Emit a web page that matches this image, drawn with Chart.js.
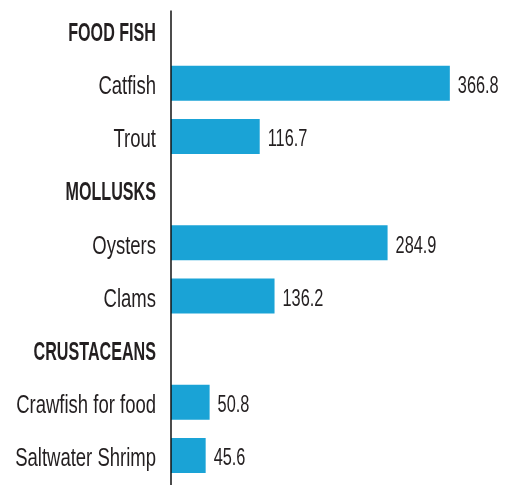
<!DOCTYPE html>
<html>
<head>
<meta charset="utf-8">
<script src="https://cdn.jsdelivr.net/npm/chart.js@4"></script>
<style>
  html, body { margin: 0; padding: 0; background: #fff; }
</style>
</head>
<body>
<canvas id="chart1" width="507" height="485"></canvas>
<script>
const categories = ["FOOD FISH", "Catfish", "Trout", "MOLLUSKS", "Oysters", "Clams", "CRUSTACEANS", "Crawfish for food", "Saltwater Shrimp"];
const isHeader = [true, false, false, true, false, false, true, false, false];
const values = [null, 366.8, 116.7, null, 284.9, 136.2, null, 50.8, 45.6];

const FONT = "'Liberation Sans', Arial, sans-serif";
const TEXT = "#231f20";

// condensed text: the original uses a narrow face, so squeeze a normal one
function squeezed(ctx, str, x, y, align, sx) {
  ctx.save();
  ctx.translate(x, y);
  ctx.scale(sx, 1);
  ctx.textAlign = align;
  ctx.fillText(str, 0, 0);
  ctx.restore();
}

const labelsAndValues = {
  id: "labelsAndValues",
  afterDatasetsDraw(chart) {
    const ctx = chart.ctx;
    const area = chart.chartArea;
    const yScale = chart.scales.y;
    const meta = chart.getDatasetMeta(0);
    ctx.save();
    // axis line, runs a bit past the bottom row like the original
    ctx.strokeStyle = "#111";
    ctx.lineWidth = 1.5;
    ctx.beginPath();
    ctx.moveTo(area.left, area.top + 7);
    ctx.lineTo(area.left, chart.height);
    ctx.stroke();

    ctx.fillStyle = TEXT;
    ctx.textBaseline = "alphabetic";
    categories.forEach((cat, i) => {
      const y = yScale.getPixelForValue(i);
      if (isHeader[i]) {
        ctx.font = "bold 25px " + FONT;
        squeezed(ctx, cat, area.left - 15, y + 10.5, "right", 0.645);
      } else {
        ctx.font = "25px " + FONT;
        squeezed(ctx, cat, area.left - 15, y + 10.8, "right", 0.74);
      }
    });
    ctx.font = "23px " + FONT;
    meta.data.forEach((bar, i) => {
      if (values[i] == null) return;
      squeezed(ctx, values[i].toFixed(1), bar.x + 8, bar.y + 10, "left", 0.71);
    });
    ctx.restore();
  }
};

const ctx = document.getElementById("chart1").getContext("2d");
const myChart = new Chart(ctx, {
  type: "bar",
  data: {
    labels: categories,
    datasets: [{
      data: values,
      backgroundColor: "#1aa3d6",
      barPercentage: 0.66,
      categoryPercentage: 1
    }]
  },
  options: {
    indexAxis: "y",
    responsive: false,
    animation: false,
    layout: { padding: { top: 3.6, bottom: 3, right: 0, left: 0 } },
    plugins: {
      legend: { display: false },
      tooltip: { enabled: false }
    },
    scales: {
      x: {
        display: false,
        min: 0,
        max: 442
      },
      y: {
        afterFit: (scale) => { scale.width = 171; },
        grid: { display: false, drawTicks: false },
        border: { display: false },
        ticks: { display: false }
      }
    }
  },
  plugins: [labelsAndValues]
});
</script>
</body>
</html>
